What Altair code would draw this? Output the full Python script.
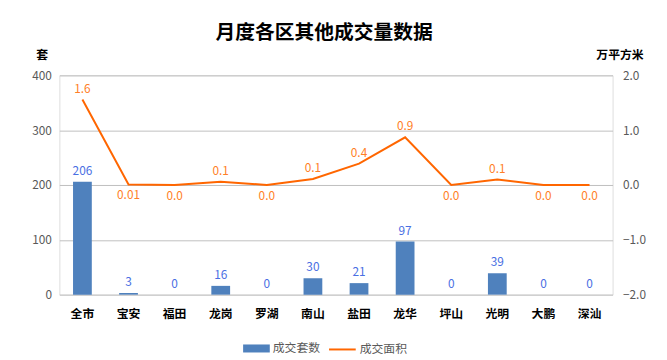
import altair as alt
import pandas as pd

districts = ["全市", "宝安", "福田", "龙岗", "罗湖", "南山", "盐田", "龙华", "坪山", "光明", "大鹏", "深汕"]
units = [206, 3, 0, 16, 0, 30, 21, 97, 0, 39, 0, 0]
area = [1.56, 0.01, 0.0, 0.06, 0.0, 0.11, 0.39, 0.87, 0.0, 0.10, 0.0, 0.0]
area_labels = ["1.6", "0.01", "0.0", "0.1", "0.0", "0.1", "0.4", "0.9", "0.0", "0.1", "0.0", "0.0"]

df = pd.DataFrame({
    "区": districts,
    "套数": units,
    "面积": area,
    "面积标签": area_labels,
    "s1": ["成交套数"] * len(districts),
    "s2": ["成交面积"] * len(districts),
})
df["above"] = df["面积"] >= 0.05

FONT = "Noto Sans CJK SC"
BLUE = "#4F81BD"
ORANGE = "#FF6600"

x = alt.X("区:N", sort=districts,
          scale=alt.Scale(paddingInner=0, paddingOuter=0),
          axis=alt.Axis(title=None, labelAngle=0, labelFontWeight="bold", labelFontSize=12,
                        labelColor="#000000", labelPadding=14, ticks=False, domain=False,
                        labelFont=FONT))

base = alt.Chart(df)

y_left = alt.Y("套数:Q", scale=alt.Scale(domain=[0, 400], nice=False),
               axis=alt.Axis(title="套", values=[0, 100, 200, 300, 400], grid=True,
                             gridColor="#BFBFBF", ticks=False, domain=False,
                             labelColor="#595959", labelFontSize=12, labelPadding=8,
                             titleAngle=0, titleX=-18, titleY=-21, titleAlign="center",
                             titleBaseline="middle", titleFontSize=12, titleFontWeight="bold",
                             titleColor="#000000", titleFont=FONT, labelFont=FONT))

bars = base.mark_bar(size=19).encode(
    x=x,
    y=y_left,
    color=alt.Color("s1:N", scale=alt.Scale(domain=["成交套数"], range=[BLUE]),
                    legend=alt.Legend(title=None, orient="none", legendX=186, legendY=263,
                                      symbolType="M-1,-0.3L1,-0.3L1,0.3L-1,0.3Z",
                                      symbolSize=729, symbolStrokeWidth=0,
                                      labelFontSize=12, labelColor="#595959", labelFont=FONT,
                                      labelOffset=3)),
)

bar_text = base.mark_text(baseline="bottom", dy=-4, fontSize=12, color="#4A6FE3", font=FONT).encode(
    x=x, y=alt.Y("套数:Q"), text=alt.Text("套数:Q"))

left = alt.layer(bars, bar_text)

y_right = alt.Y("面积:Q", scale=alt.Scale(domain=[-2, 2], nice=False),
                axis=alt.Axis(title="万平方米", orient="right", values=[-2, -1, 0, 1, 2], format=".1f",
                              grid=False, ticks=False, domain=False,
                              labelColor="#595959", labelFontSize=12, labelPadding=10,
                              titleAngle=0, titleX=7, titleY=-21, titleAlign="center",
                              titleBaseline="middle", titleFontSize=12, titleFontWeight="bold",
                              titleColor="#000000", titleFont=FONT, labelFont=FONT))

line = base.mark_line(strokeWidth=2).encode(
    x=x,
    y=y_right,
    stroke=alt.Stroke("s2:N", scale=alt.Scale(domain=["成交面积"], range=[ORANGE]),
                      legend=alt.Legend(title=None, orient="none", legendX=272, legendY=263,
                                        symbolType="stroke", symbolSize=729, symbolStrokeWidth=2,
                                        labelFontSize=12, labelColor="#595959", labelFont=FONT,
                                        labelOffset=3)),
)

line_text_above = base.transform_filter("datum.above").mark_text(
    baseline="bottom", dy=-4, fontSize=12, color="#FF7F27", font=FONT).encode(
    x=x, y=alt.Y("面积:Q"), text="面积标签:N")

line_text_below = base.transform_filter("!datum.above").mark_text(
    baseline="top", dy=6, fontSize=12, color="#FF7F27", font=FONT).encode(
    x=x, y=alt.Y("面积:Q"), text="面积标签:N")

right = alt.layer(line, line_text_above, line_text_below)

chart = alt.layer(left, right).resolve_scale(y="independent").properties(
    width=560, height=222,
    autosize=alt.AutoSizeParams(type="none"),
    padding={"left": 52, "top": 66, "right": 47, "bottom": 64},
    title=alt.TitleParams("月度各区其他成交量数据", fontSize=20, fontWeight="bold", font=FONT,
                          color="#000000", anchor="middle", dx=-12, offset=6),
).configure_view(stroke=None).configure(font=FONT)

chart.save("out.html", embed_options={"renderer": "svg", "actions": False})
